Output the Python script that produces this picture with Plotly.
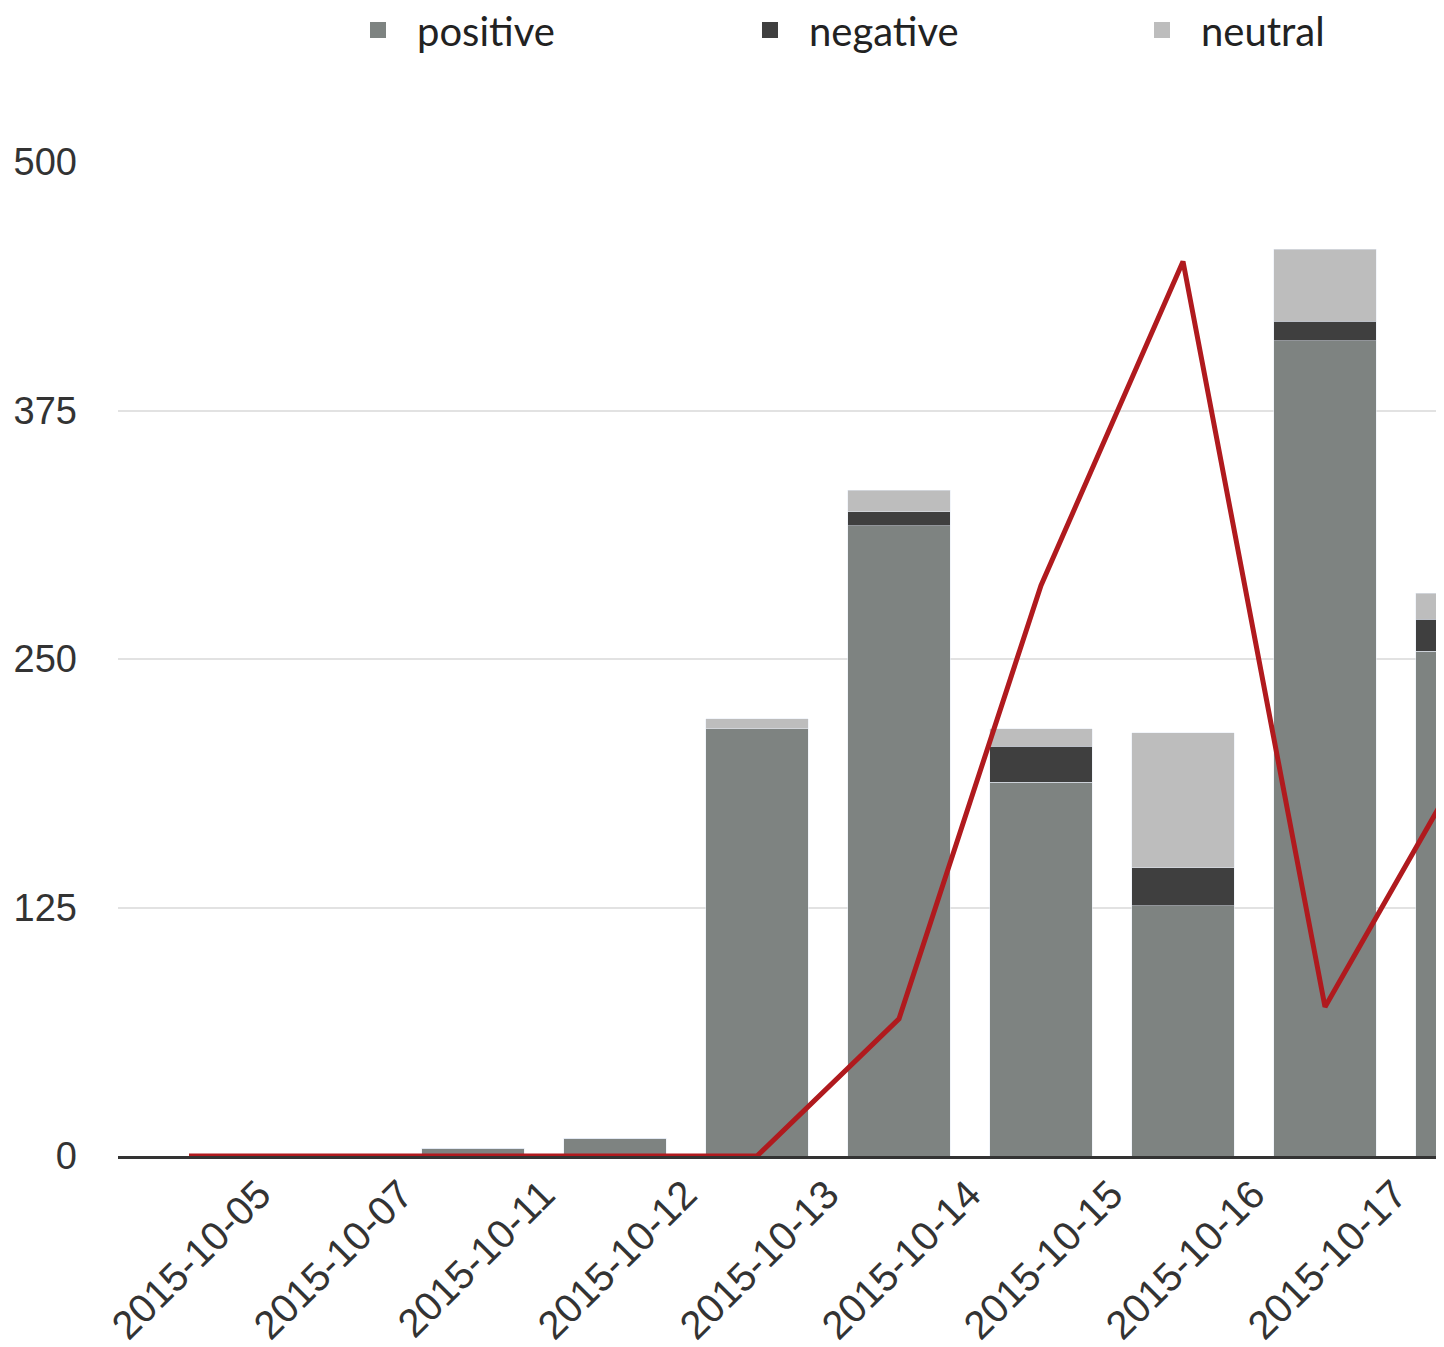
import plotly.graph_objects as go

dates = ["2015-10-05", "2015-10-07", "2015-10-11", "2015-10-12", "2015-10-13",
         "2015-10-14", "2015-10-15", "2015-10-16", "2015-10-17", "2015-10-18"]
positive = [0, 0, 4, 9, 215, 317, 188, 126, 410, 254]
negative = [0, 0, 0, 0, 0, 7, 18, 19, 10, 16]
neutral = [0, 0, 0, 0, 5, 11, 9, 68, 36, 13]
trend = [0, 0, 0, 0, 0, 69, 287, 450, 75, 200]
y_ticks = [0, 125, 250, 375, 500]

series = [("positive", positive, "#7e8381"),
          ("negative", negative, "#3f3f3f"),
          ("neutral", neutral, "#bdbdbd")]

fig = go.Figure()
for name, vals, color in series:
    fig.add_trace(go.Bar(x=dates, y=vals, name=name, marker_color=color,
                         legendgroup=name, showlegend=False))
for name, vals, color in series:
    fig.add_trace(go.Scatter(x=[None], y=[None], name=name, mode="markers",
                             legendgroup=name,
                             marker=dict(symbol="square", size=16, color=color)))
fig.add_trace(go.Scatter(x=dates, y=trend, mode="lines", showlegend=False,
                         line=dict(color="#b01a1e", width=5)))

fig.update_layout(
    width=1436, height=1339,
    barmode="stack", bargap=0.28,
    plot_bgcolor="white", paper_bgcolor="white",
    margin=dict(l=110, r=0, t=154, b=191),
    font=dict(family="Liberation Sans, Arial, sans-serif", color="#333333"),
    legend=dict(orientation="h", xref="container", yref="container",
                x=0.2305, xanchor="left", y=0.9835, yanchor="middle",
                font=dict(family="Lato, sans-serif", size=40, color="#222222"),
                entrywidth=309, entrywidthmode="pixels", itemwidth=68,
                itemsizing="trace", traceorder="normal"),
)
fig.update_xaxes(type="category", range=[-0.5, 8.838], showgrid=False,
                 automargin=False,
                 tickangle=-45, tickfont=dict(size=40, color="#333333"),
                 ticklabelshift=70, ticklabelstandoff=-4,
                 showline=True, linecolor="#333333", linewidth=3)
fig.update_yaxes(range=[0, 500], tickvals=y_ticks, showgrid=True,
                 automargin=False,
                 gridcolor="#e2e2e2", gridwidth=2, zeroline=False,
                 tickfont=dict(size=38, color="#333333"), ticklabelstandoff=40)

fig.write_html("out.html")
